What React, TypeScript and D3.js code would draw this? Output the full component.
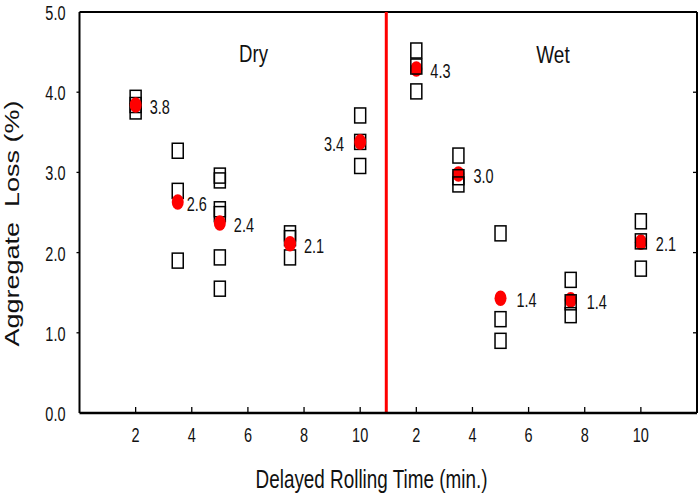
import React from 'react';
import * as d3 from 'd3';

// rolling delay (min.) at which samples were taken
const times = [2, 3.5, 5, 7.5, 10];
const xTickValues = [2, 4, 6, 8, 10];
const yTickValues = [0, 1, 2, 3, 4, 5];
const panels = ['Dry', 'Wet'];

// replicate aggregate loss (%) values, one list per time
const dryReps = [
  [3.93, 3.84, 3.76],
  [3.27, 2.77, 1.9],
  [2.96, 2.9, 2.54, 2.48, 1.94, 1.55],
  [2.24, 2.18, 1.94],
  [3.71, 3.38, 3.08],
];
const wetReps = [
  [4.52, 4.32, 4.01],
  [3.21, 2.94, 2.85],
  [2.24, 1.17, 0.9],
  [1.66, 1.38, 1.22],
  [2.39, 2.14, 1.8],
];
// mean values (red dots)
const dryMeans = [3.84, 2.63, 2.37, 2.11, 3.38];
const wetMeans = [4.29, 2.98, 1.43, 1.41, 2.13];

// label nudges (layout only)
const dryLabelDx = [14, 9, 14, 14, -16];
const wetLabelDx = [14, 15, 16, 16, 15];

const W = 699;
const H = 497;
const FONT = '"Liberation Sans", Arial, sans-serif';
const K = 1.35; // vertical stretch of the original picture

const m = { left: 79.5, right: 697, top: 12, bottom: 413 };
const PANEL_OFFSET = 10; // wet times are shifted 10 units right

const x = d3.scaleLinear().domain([0, 22]).range([m.left, m.right]);
const y = d3.scaleLinear().domain([0, 5]).range([m.bottom, m.top]);

const Stretched = ({ tx, ty, size, anchor = 'start', k = K, children }: any) => (
  <text
    transform={`translate(${tx},${ty}) scale(1,${k})`}
    fontFamily={FONT}
    fontSize={size}
    textAnchor={anchor}
    fill="#111"
  >
    {children}
  </text>
);

const Panel = ({ reps, means, offset, labelDx, squaresOnTop }: any) => {
  const squares = reps.flatMap((vals: number[], i: number) =>
    vals.map((v, j) => (
      <rect
        key={`s${i}-${j}`}
        x={x(times[i] + offset) - 5.5}
        y={y(v) - 7.5}
        width={11}
        height={15}
        fill="none"
        stroke="#000"
        strokeWidth={1.5}
      />
    ))
  );
  const dots = means.map((v: number, i: number) => (
    <ellipse key={`d${i}`} cx={x(times[i] + offset)} cy={y(v)} rx={6} ry={7.8} fill="#f00" />
  ));
  const labels = means.map((v: number, i: number) => (
    <Stretched
      key={`l${i}`}
      tx={x(times[i] + offset) + labelDx[i]}
      ty={y(v) + 9}
      size={14.5}
      anchor={labelDx[i] < 0 ? 'end' : 'start'}
    >
      {v.toFixed(1)}
    </Stretched>
  ));
  return (
    <g>
      {squaresOnTop ? dots : squares}
      {squaresOnTop ? squares : dots}
      {labels}
    </g>
  );
};

export default function App() {
  const xTicks = [0, PANEL_OFFSET].flatMap((off) => xTickValues.map((t) => ({ t, p: t + off })));
  return (
    <svg width={W} height={H} style={{ position: 'absolute', left: 0, top: 0, background: '#fff' }}>
      {/* frame */}
      <line x1={m.left} x2={m.right} y1={m.top} y2={m.top} stroke="#000" strokeWidth={2} />
      <line x1={m.right} x2={m.right} y1={m.top} y2={m.bottom} stroke="#000" strokeWidth={2} />
      <line x1={m.left} x2={m.left} y1={m.top} y2={m.bottom} stroke="#000" strokeWidth={2} />

      {/* y ticks */}
      {yTickValues.map((v) => (
        <g key={`y${v}`}>
          {v > 0 && v < 5 && (
            <>
              <line x1={m.left - 3} x2={m.left} y1={y(v)} y2={y(v)} stroke="#000" strokeWidth={1.3} />
              <line x1={m.right - 4} x2={m.right} y1={y(v)} y2={y(v)} stroke="#000" strokeWidth={1.3} />
            </>
          )}
          <Stretched tx={65.5} ty={y(v) + 8} size={14.5} anchor="end">
            {v.toFixed(1)}
          </Stretched>
        </g>
      ))}

      {/* x ticks */}
      {xTicks.map(({ t, p }) => (
        <g key={`x${p}`}>
          <line x1={x(p)} x2={x(p)} y1={m.bottom - 6} y2={m.bottom} stroke="#000" strokeWidth={1.3} />
          <Stretched tx={x(p)} ty={441.5} size={14.5} anchor="middle">
            {t}
          </Stretched>
        </g>
      ))}

      {/* divider between dry and wet */}
      <line
        x1={x(PANEL_OFFSET + 0.93)}
        x2={x(PANEL_OFFSET + 0.93)}
        y1={m.top}
        y2={m.bottom}
        stroke="#f00"
        strokeWidth={3}
      />

      <line x1={m.left} x2={m.right} y1={m.bottom} y2={m.bottom} stroke="#000" strokeWidth={2.6} />

      <Panel reps={dryReps} means={dryMeans} offset={0} labelDx={dryLabelDx} squaresOnTop={false} />
      <Panel reps={wetReps} means={wetMeans} offset={PANEL_OFFSET} labelDx={wetLabelDx} squaresOnTop={true} />

      {/* panel titles */}
      <Stretched tx={253.5} ty={61.5} size={18.6} anchor="middle" k={1.3}>
        {panels[0]}
      </Stretched>
      <Stretched tx={553} ty={62.5} size={19} anchor="middle" k={1.3}>
        {panels[1]}
      </Stretched>

      {/* axis titles */}
      <Stretched tx={371.5} ty={488} size={18.9} anchor="middle" k={1.33}>
        Delayed Rolling Time (min.)
      </Stretched>
      <text
        transform={`translate(18.5,223.5) scale(1,${K}) rotate(-90)`}
        fontFamily={FONT}
        fontSize={20}
        textAnchor="middle"
        fill="#111"
        style={{ whiteSpace: 'pre' }}
      >
        {'Aggregate  Loss (%)'}
      </text>
    </svg>
  );
}
